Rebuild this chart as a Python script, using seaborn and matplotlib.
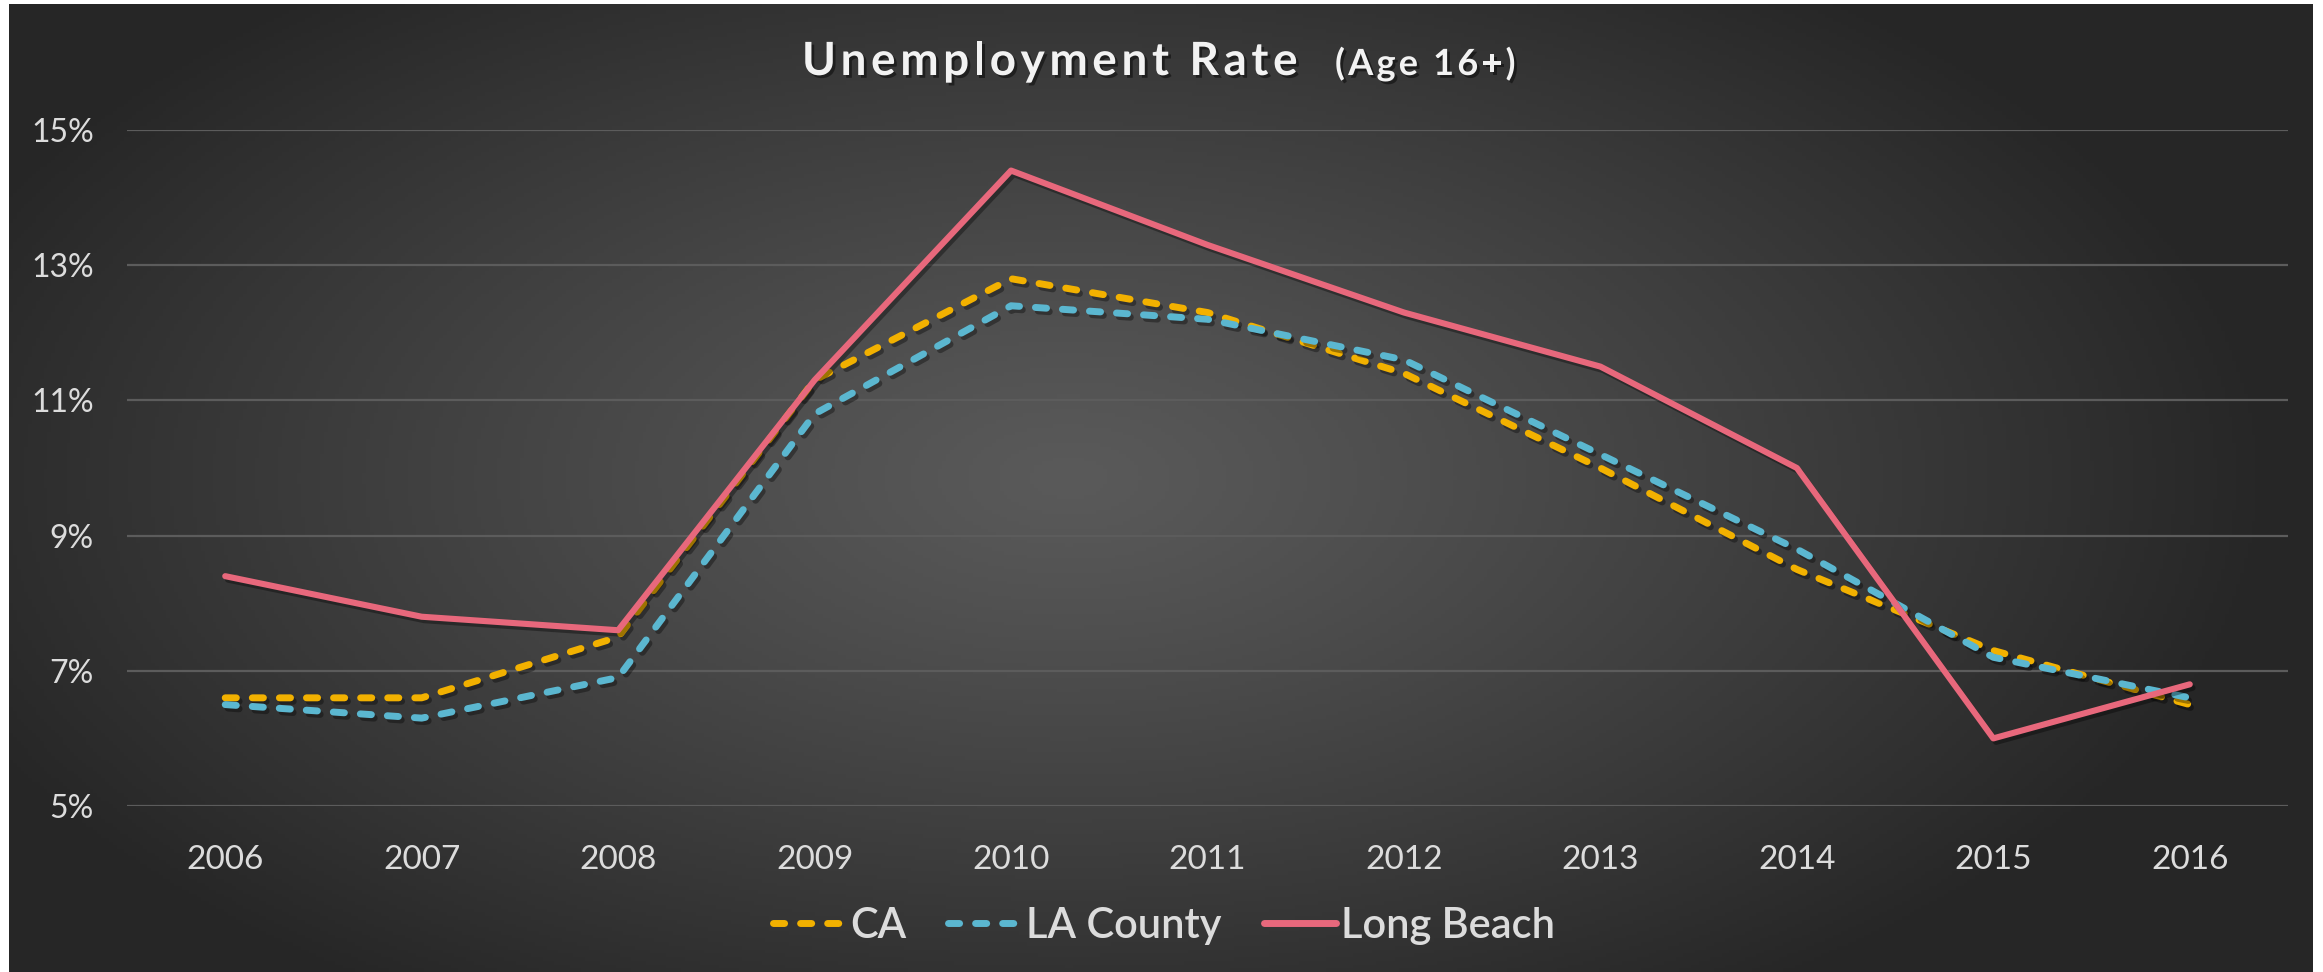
import numpy as np
import pandas as pd
import matplotlib
matplotlib.use("Agg")
import matplotlib.pyplot as plt
import matplotlib.patheffects as pe
import seaborn as sns
from matplotlib.lines import Line2D

# ---- data ----
years = [2006, 2007, 2008, 2009, 2010, 2011, 2012, 2013, 2014, 2015, 2016]
ca = [6.6, 6.6, 7.5, 11.3, 12.8, 12.3, 11.4, 10.0, 8.5, 7.3, 6.5]
la_county = [6.5, 6.3, 6.9, 10.8, 12.4, 12.2, 11.6, 10.2, 8.8, 7.2, 6.6]
long_beach = [8.4, 7.8, 7.6, 11.3, 14.4, 13.3, 12.3, 11.5, 10.0, 6.0, 6.8]
series_names = ["CA", "LA County", "Long Beach"]
colors = ["#F2B100", "#5BB7D0", "#E8687C"]
yticks = [5, 7, 9, 11, 13, 15]
title_main = "Unemployment Rate"
title_sub = "(Age 16+)"

df = pd.DataFrame({
    "Year": years * 3,
    "Rate": ca + la_county + long_beach,
    "Series": [series_names[0]] * len(years) + [series_names[1]] * len(years) + [series_names[2]] * len(years),
})

sns.set_theme(style="dark")
plt.rcParams["font.family"] = ["Lato", "DejaVu Sans"]

W, H = 2323, 972
fig = plt.figure(figsize=(W / 100, H / 100), dpi=100, facecolor="white")

# background with radial gradient (thin white frame at left/right/top)
bx0, bx1, by_top = 9 / W, 1 - 10 / W, 1 - 4 / H
bg = fig.add_axes([bx0, 0, bx1 - bx0, by_top], zorder=0)
gx = np.linspace(-1, 1, 600)
gy = np.linspace(-1, 1, 260)
GX, GY = np.meshgrid(gx, gy)
cx, cy = -0.08, 0.02
r = np.sqrt(((GX - cx) / 1.05) ** 2 + ((GY - cy) / 1.3) ** 2)
r = np.clip(r, 0, 1)
c_in, c_out = 0x5a / 255, 0x26 / 255
val = c_in + (c_out - c_in) * r ** 1.15
img = np.dstack([val, val, val])
bg.imshow(img, aspect="auto", extent=[0, 1, 0, 1], origin="lower")
bg.set_axis_off()

ax = fig.add_axes([127 / W, 1 - 806 / H, (2288 - 127) / W, (806 - 130) / H], zorder=1)
ax.patch.set_alpha(0)

LW = 5.0
DASH = (1.6, 2.3)
sns.lineplot(
    data=df, x="Year", y="Rate", hue="Series", style="Series",
    hue_order=series_names, style_order=series_names,
    palette=dict(zip(series_names, colors)),
    dashes={"CA": DASH, "LA County": DASH, "Long Beach": ""},
    linewidth=LW, ax=ax, legend=False,
)
shadow = [pe.SimpleLineShadow(offset=(2, -2.5), shadow_color="black", alpha=0.35), pe.Normal()]
for ln in ax.get_lines():
    ln.set_dash_capstyle("round")
    ln.set_solid_capstyle("round")
    ln.set_solid_joinstyle("round")
    ln.set_path_effects(shadow)
ax.get_lines()[2].set_zorder(3)
ax.get_lines()[2].set_linewidth(4.4)

ax.set_xlim(years[0] - 0.5, years[-1] + 0.5)
ax.set_ylim(5, 15)
ax.set_yticks(yticks)
ax.set_yticklabels([f"{v}%" for v in yticks])
ax.set_xticks(years)
ax.set_xticklabels([str(y) for y in years])
ax.grid(axis="y", color="#5c5c5c", linewidth=1.6)
ax.grid(axis="x", visible=False)
for s in ax.spines.values():
    s.set_visible(False)
ax.tick_params(axis="y", colors="#DCDCDC", labelsize=23, length=0, pad=24)
ax.tick_params(axis="x", colors="#DCDCDC", labelsize=24, length=0, pad=28)
ax.set_xlabel("")
ax.set_ylabel("")

# legend
handles = []
for name, col in zip(series_names, colors):
    h = Line2D([0], [0], color=col, linewidth=LW,
               linestyle=(0, DASH) if name != "Long Beach" else "-",
               dash_capstyle="round", solid_capstyle="round")
    handles.append(h)
leg = fig.legend(handles, series_names, loc="center", bbox_to_anchor=(0.5 * (776 + 1552) / W, 1 - 926 / H),
                 ncol=3, frameon=False, handlelength=1.75, handletextpad=0.12,
                 columnspacing=1.0, labelcolor="#DCDCDC",
                 prop={"family": ["Lato", "DejaVu Sans"], "size": 30, "weight": "semibold"})

# letter-spaced title
tshadow = [pe.withSimplePatchShadow(offset=(2, -2), shadow_rgbFace="black", alpha=0.45)]
renderer = fig.canvas.get_renderer()


def spaced_text(x_px, base_px, s, size, spacing_px):
    """Draw string s starting at pixel x_px with extra spacing between letters."""
    x = x_px
    for ch in s:
        t = fig.text(x / W, 1 - base_px / H, ch, ha="left", va="baseline", fontsize=size,
                     fontweight="bold", color="#F2F2F2", path_effects=tshadow)
        if ch == " ":
            tmp = fig.text(0, 0, "a a", fontsize=size, fontweight="bold")
            tmp2 = fig.text(0, 0, "aa", fontsize=size, fontweight="bold")
            w = tmp.get_window_extent(renderer).width - tmp2.get_window_extent(renderer).width
            tmp.remove()
            tmp2.remove()
        else:
            w = t.get_window_extent(renderer).width
        x += w + spacing_px


spaced_text(802, 75, title_main, 33, 4.6)
spaced_text(1335, 75, title_sub, 26, 3.2)

fig.savefig("out.png", dpi=100, facecolor="white")
